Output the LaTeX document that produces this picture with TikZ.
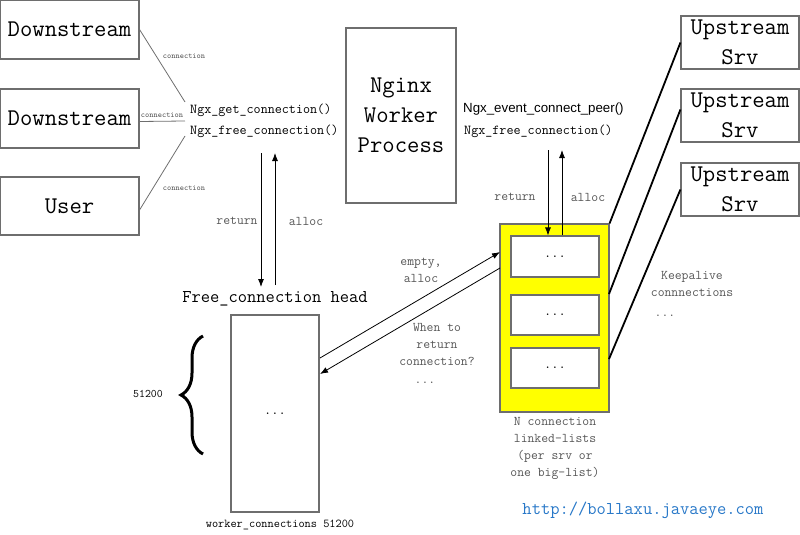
\documentclass[tikz,border=0pt]{standalone}
\usepackage{fontspec}
\newfontfamily\sansf{Liberation Sans}
\usetikzlibrary{arrows.meta,decorations.pathreplacing}
\definecolor{boxgray}{RGB}{110,110,110}
\definecolor{txtgray}{RGB}{85,85,85}
\definecolor{urlblue}{RGB}{40,120,200}
\definecolor{listyellow}{RGB}{255,255,0}
\begin{document}
\begin{tikzpicture}[x=1pt,y=-1pt,
  box/.style={draw=boxgray, line width=1.1pt, inner sep=0pt, fill=white, align=center},
  bigtxt/.style={font=\ttfamily\fontsize{24}{30}\selectfont},
  fntxt/.style={font=\ttfamily\fontsize{13.7}{17}\selectfont, inner sep=0pt, anchor=west},
  lbl/.style={font=\ttfamily\fontsize{13.3}{17}\selectfont, text=txtgray, inner sep=0pt, align=center},
  tiny/.style={font=\ttfamily\fontsize{8}{10}\selectfont, text=txtgray, inner sep=0pt},
  thinline/.style={draw=boxgray, line width=0.8pt},
  upline/.style={draw=black, line width=1.8pt},
  arr/.style={draw=black, line width=0.8pt, -{Latex[length=8pt,width=6pt]}}]
\useasboundingbox (0,0) rectangle (800,535);

% left boxes
\node[box, bigtxt, minimum width=139pt, minimum height=59pt] (d1) at (69.5,29.5) {Downstream};
\node[box, bigtxt, minimum width=139pt, minimum height=59pt] (d2) at (69.5,118.5) {Downstream};
\node[box, bigtxt, minimum width=139pt, minimum height=58pt] (u) at (69.5,206) {User};

% nginx worker
\node[box, bigtxt, minimum width=110pt, minimum height=175pt] (ngx) at (401,115.5) {Nginx\\Worker\\Process};

% upstream boxes
\node[box, bigtxt, minimum width=118pt, minimum height=53pt] (up1) at (740,42.5) {Upstream\\Srv};
\node[box, bigtxt, minimum width=118pt, minimum height=53pt] (up2) at (740,115.5) {Upstream\\Srv};
\node[box, bigtxt, minimum width=118pt, minimum height=53pt] (up3) at (740,189.5) {Upstream\\Srv};

% function names
\node[fntxt] (fn1) at (190,110) {Ngx\_get\_connection()};
\node[fntxt] (fn2) at (190,131) {Ngx\_free\_connection()};
\node[inner sep=0pt, anchor=west, font=\sansf\fontsize{13.3}{16}\selectfont] (fn3) at (463,109) {Ngx\_event\_connect\_peer()};
\node[fntxt] (fn4) at (464,131) {Ngx\_free\_connection()};

% connections from clients
\coordinate (c1) at (185,102);
\coordinate (c2) at (185,121);
\coordinate (c3) at (185,136);
\draw[thinline] (d1.east) -- (c1);
\draw[thinline] ([yshift=-3pt]d2.east) -- (c2);
\draw[thinline] ([yshift=-4pt]u.east) -- (c3);
\node[tiny] (l1) at (184,56) {connection};
\node[tiny] (l2) at (162,115) {connection};
\node[tiny] (l3) at (184,188) {connection};

% free connection list
\node[font=\ttfamily\fontsize{18}{22}\selectfont, inner sep=0pt] (fh) at (275,299) {Free\_connection head};
\node[box, minimum width=88pt, minimum height=197pt, font=\ttfamily\fontsize{14}{17}\selectfont] (wc) at (275,413.5) {...};
\node[font=\ttfamily\fontsize{12}{14}\selectfont, inner sep=0pt] (wcl) at (280,525) {worker\_connections 51200};
\draw[line width=3pt, decorate, decoration={brace, amplitude=22pt}] (203,454) -- (203,336);
\node[font=\ttfamily\fontsize{11.5}{14}\selectfont, inner sep=0pt] (n512) at (148,394) {51200};

% left arrows
\coordinate (la1) at (261,153);
\coordinate (la2) at (261,287);
\coordinate (lb1) at (275,285);
\coordinate (lb2) at (275,153);
\draw[arr] (la1) -- (la2);
\draw[arr] (lb1) -- (lb2);
\node[lbl] (lret) at (237,221) {return};
\node[lbl] (lall) at (306,221) {alloc};

% yellow list
\node[draw=boxgray, line width=1.1pt, fill=listyellow, minimum width=109pt, minimum height=188pt, inner sep=0pt] (yl) at (554.5,318) {};
\node[box, minimum width=88pt, minimum height=41pt, font=\ttfamily\fontsize{14}{17}\selectfont] (b1) at (555,256.5) {...};
\node[box, minimum width=88pt, minimum height=40pt, font=\ttfamily\fontsize{14}{17}\selectfont] (b2) at (555,315) {...};
\node[box, minimum width=88pt, minimum height=40pt, font=\ttfamily\fontsize{14}{17}\selectfont] (b3) at (555,368) {...};
\node[lbl] (ylbl) at (555,448) {N connection\\linked-lists\\(per srv or\\one big-list)};

% right arrows
\coordinate (ra1) at (548,150);
\coordinate (rb2) at (562,150);
\draw[arr] (ra1) -- (b1.north -| ra1);
\draw[arr] (b1.north -| rb2) -- (rb2);
\node[lbl] (rret) at (515,197) {return};
\node[lbl] (rall) at (588,197) {alloc};

% upstream lines
\draw[upline] (up1.west) -- (yl.north east);
\draw[upline] ([yshift=6pt]up2.west) -- (609,294);
\draw[upline] (up3.west) -- (609,359);
\node[lbl] (ka) at (692,284) {Keepalive\\connnections};
\node[lbl] (kd) at (665,316) {...};

% diagonal arrows
\coordinate (dg1) at (320,358);
\coordinate (dg2) at (500,252);
\coordinate (dg3) at (500,268);
\coordinate (dg4) at (320,374);
\draw[arr] (dg1) -- (dg2);
\draw[arr] (dg3) -- (dg4);
\node[lbl] (ea) at (421,270) {empty,\\alloc};
\node[lbl] (wr) at (437,344) {When to\\return\\connection?};
\node[lbl] (wd) at (425,383) {...};

% url
\node[font=\ttfamily\fontsize{18}{22}\selectfont, text=urlblue, inner sep=0pt] (url) at (643,510) {http://bollaxu.javaeye.com};
\end{tikzpicture}
\end{document}
